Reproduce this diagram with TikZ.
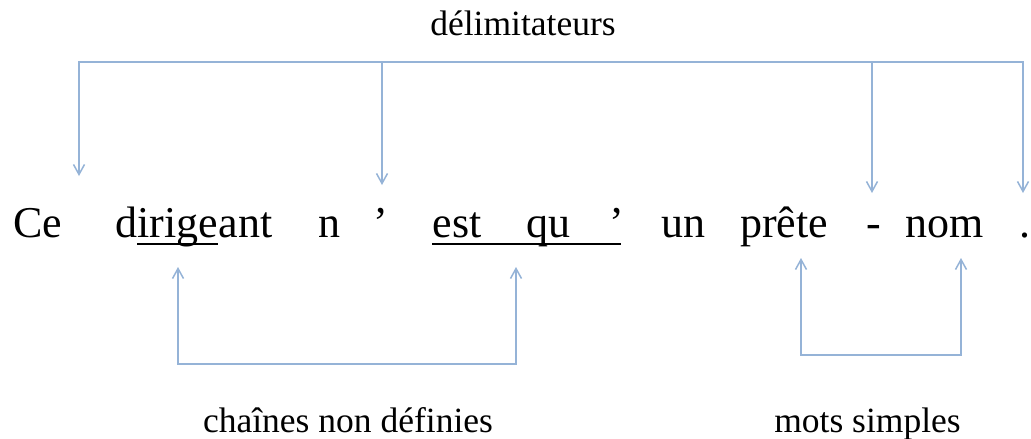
\documentclass[tikz,border=0pt]{standalone}
\usepackage{fontspec}
\setmainfont{Liberation Serif}
\usepackage{xcolor}
\usetikzlibrary{arrows.meta}
\definecolor{flechebleu}{RGB}{149,179,215}

\tikzset{
    mot/.style={anchor=base, inner sep=0pt, font=\fontsize{44}{50}\selectfont},
    legende/.style={anchor=base, inner sep=0pt, font=\fontsize{35.5}{40}\selectfont},
    trait/.style={flechebleu, line width=1.5pt, line join=miter},
    fleche/.style={trait, -{Straight Barb[length=10pt, width=11pt]}},
    fleches/.style={trait, {Straight Barb[length=10pt, width=11pt]}-{Straight Barb[length=10pt, width=11pt]}},
    souligne/.style={black, line width=2pt, line cap=butt},
}

\begin{document}
\begin{tikzpicture}[x=1pt, y=-1pt, line cap=round]

    \path[use as bounding box] (0,0) rectangle (1031,439);

    % =======================================================
    % PHRASE
    % =======================================================
    \node[mot] (ce) at (37.5,237) {Ce};
    \node[mot, anchor=base west] (d) at (115,237) {d};
    \node[mot, anchor=base west] (irige) at (d.base east) {irige};
    \node[mot, anchor=base west] (ant) at (irige.base east) {ant};
    \node[mot] (n) at (329,237) {n};
    \node[mot] (apos1) at (381,237) {’};
    \node[mot] (est) at (457,237) {est};
    \node[mot] (qu) at (548,237) {qu};
    \node[mot] (apos2) at (617,237) {’};
    \node[mot] (un) at (683,237) {un};
    \node[mot] (prete) at (784,237) {prête};
    \node[mot] (tiret) at (873.5,237) {-};
    \node[mot] (nom) at (945,237) {nom};
    \node[mot] (point) at (1025,237) {.};

    % soulignements
    \draw[souligne] ([yshift=-7pt]irige.base west) -- ([yshift=-7pt]irige.base east);
    \draw[souligne] ([yshift=-7pt]est.base west) -- ([xshift=-4pt, yshift=-7pt]apos2.base east);

    % =======================================================
    % LEGENDES
    % =======================================================
    \node[legende] (delim) at (523,35) {délimitateurs};
    \node[legende] (chaines) at (348,432) {chaînes non définies};
    \node[legende] (simples) at (867.5,432) {mots simples};

    % =======================================================
    % FLECHES
    % =======================================================
    % 1. Delimitateurs (en haut)
    \coordinate (haut) at (523,62);
    \coordinate (versCe) at (79,176);
    \coordinate (versApos) at (382,185);
    \coordinate (versTiret) at (872,193);
    \coordinate (versPoint) at (1023,193);
    \draw[fleches] (versCe) -- (versCe |- haut) -- (versPoint |- haut) -- (versPoint);
    \draw[fleche] (versApos |- haut) -- (versApos);
    \draw[fleche] (versTiret |- haut) -- (versTiret);

    % 2. Chaines non definies
    \coordinate (basG) at (348,364);
    \coordinate (versIrige) at (178,267);
    \coordinate (versEstqu) at (516,267);
    \draw[fleches] (versIrige) -- (versIrige |- basG) -- (versEstqu |- basG) -- (versEstqu);

    % 3. Mots simples
    \coordinate (basD) at (881,355);
    \coordinate (versPrete) at (801,258);
    \coordinate (versNom) at (961,258);
    \draw[fleches] (versPrete) -- (versPrete |- basD) -- (versNom |- basD) -- (versNom);

\end{tikzpicture}
\end{document}
